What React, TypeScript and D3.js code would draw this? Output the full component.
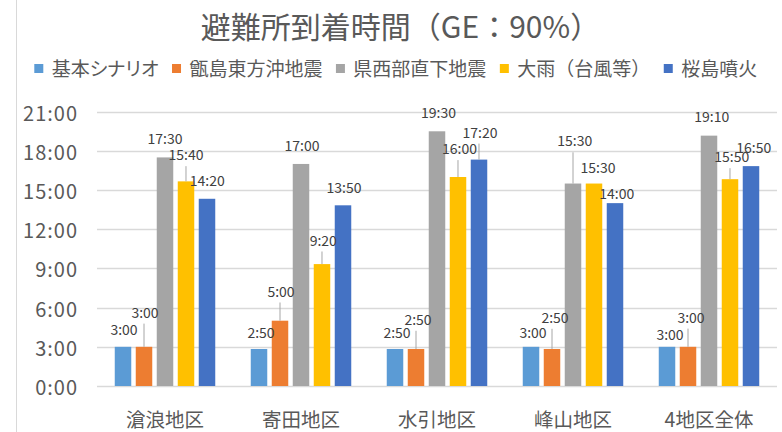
import React, { useEffect, useRef } from "react";
import * as d3 from "d3";

const titleText = "避難所到着時間（GE：90%）";
const categories = ["滄浪地区", "寄田地区", "水引地区", "峰山地区", "4地区全体"];
const seriesNames = ["基本シナリオ", "甑島東方沖地震", "県西部直下地震", "大雨（台風等）", "桜島噴火"];
const seriesColors = ["#5B9BD5", "#ED7D31", "#A5A5A5", "#FFC000", "#4472C4"];

const baseScenario = ["3:00", "2:50", "2:50", "3:00", "3:00"];
const koshikiQuake = ["3:00", "5:00", "2:50", "2:50", "3:00"];
const westQuake = ["17:30", "17:00", "19:30", "15:30", "19:10"];
const heavyRain = ["15:40", "9:20", "16:00", "15:30", "15:50"];
const sakurajima = ["14:20", "13:50", "17:20", "14:00", "16:50"];

const yTickLabels = ["0:00", "3:00", "6:00", "9:00", "12:00", "15:00", "18:00", "21:00"];

// label placement (manual offsets as in the original): lift above bar top, horizontal nudge
const labelLift = [
  [17, 16, 16, 14, 12],
  [34, 29, 29, 31, 29],
  [18, 18, 18.5, 42, 18.3],
  [26, 23.4, 27.7, 15.4, 21.8],
  [18, 17.6, 26.8, 9, 18.3],
];
const labelDx = [
  [1, 2, 2, 2, 3],
  [1, 1, 2, 3, 3],
  [0, 1, 1.5, 1.7, 2.7],
  [0, 1.3, 1.5, 4, 1.7],
  [0.3, 1, 1, 1.8, 2.7],
];

const toMin = (s: string) => {
  const [h, m] = s.split(":").map(Number);
  return h * 60 + m;
};

const FONT = "'Noto Sans CJK JP', 'Noto Sans', sans-serif";
const TEXT = "#595959";

export default function App() {
  const ref = useRef<SVGSVGElement | null>(null);

  useEffect(() => {
    const svg = d3.select(ref.current);
    svg.selectAll("*").remove();

    const W = 782, H = 432;
    const left = 97, right = 777, top = 111.7, bottom = 386;
    const series = [baseScenario, koshikiQuake, westQuake, heavyRain, sakurajima];

    const x0 = d3.scaleBand<string>().domain(categories).range([left, right]).padding(0);
    const x1 = d3
      .scaleBand<string>()
      .domain(seriesNames)
      .range([17.75, x0.bandwidth() - 17.75])
      .paddingInner(0.214)
      .paddingOuter(0);
    const y = d3.scaleLinear().domain([0, 21 * 60]).range([bottom, top]);

    svg.append("rect").attr("width", W).attr("height", H).attr("fill", "#fff");
    // chart border (left edge)
    svg.append("line").attr("x1", 16.5).attr("x2", 16.5).attr("y1", 0).attr("y2", H)
      .attr("stroke", "#D9D9D9").attr("stroke-width", 1);

    // gridlines + ticks
    const g = svg.append("g");
    yTickLabels.forEach((t) => {
      const yy = Math.round(y(toMin(t))) + 0.5;
      g.append("line").attr("x1", left).attr("x2", right).attr("y1", yy).attr("y2", yy)
        .attr("stroke", "#D9D9D9").attr("stroke-width", 1.3);
      g.append("text").attr("x", 78).attr("y", y(toMin(t)) + 2).attr("dy", "0.35em")
        .attr("text-anchor", "end").attr("font-size", 20).attr("fill", TEXT)
        .attr("font-family", FONT).attr("letter-spacing", 1).text(t);
    });

    // categories
    categories.forEach((c) => {
      svg.append("text").attr("x", (x0(c) as number) + x0.bandwidth() / 2).attr("y", 420)
        .attr("dy", "0.35em").attr("text-anchor", "middle").attr("font-size", 19.5)
        .attr("fill", TEXT).attr("font-family", FONT).text(c);
    });

    // bars
    series.forEach((vals, si) => {
      vals.forEach((v, ci) => {
        const bx = (x0(categories[ci]) as number) + (x1(seriesNames[si]) as number);
        const yv = y(toMin(v));
        svg.append("rect").attr("x", bx).attr("y", yv).attr("width", x1.bandwidth())
          .attr("height", bottom - yv).attr("fill", seriesColors[si]);
      });
    });

    // labels
    series.forEach((vals, si) => {
      vals.forEach((v, ci) => {
        const cx = (x0(categories[ci]) as number) + (x1(seriesNames[si]) as number) + x1.bandwidth() / 2;
        const yv = y(toMin(v));
        const lift = labelLift[si][ci];
        const ly = yv - lift;
        if (lift > 20) {
          svg.append("line").attr("x1", cx).attr("x2", cx).attr("y1", ly + 10.8).attr("y2", yv)
            .attr("stroke", "#A6A6A6").attr("stroke-width", 1);
        }
        svg.append("text").attr("x", cx + labelDx[si][ci]).attr("y", ly).attr("dy", "0.35em")
          .attr("text-anchor", "middle").attr("font-size", 14).attr("fill", "#404040")
          .attr("font-family", FONT).text(v);
      });
    });

    // title
    svg.append("text").attr("x", 400.5).attr("y", 27).attr("dy", "0.38em")
      .attr("text-anchor", "middle").attr("font-size", 30).attr("fill", TEXT)
      .attr("font-family", FONT).text(titleText);

    // legend
    const lg = svg.append("g");
    let lx = 34.3;
    seriesNames.forEach((name, i) => {
      lg.append("rect").attr("x", lx).attr("y", 64).attr("width", 9).attr("height", 9)
        .attr("fill", seriesColors[i]);
      const t = lg.append("text").attr("x", lx + 17.4).attr("y", 68.5).attr("dy", "0.38em")
        .attr("font-size", 19).attr("fill", TEXT).attr("font-family", FONT)
        .style("font-feature-settings", i === 0 ? '"palt"' : "normal").text(name);
      const w = (t.node() as SVGTextElement).getComputedTextLength();
      lx = lx + 17.4 + w + 13.5;
    });
  }, []);

  return (
    <svg
      ref={ref}
      width={782}
      height={432}
      style={{ position: "absolute", left: 0, top: 0, display: "block" }}
    />
  );
}
